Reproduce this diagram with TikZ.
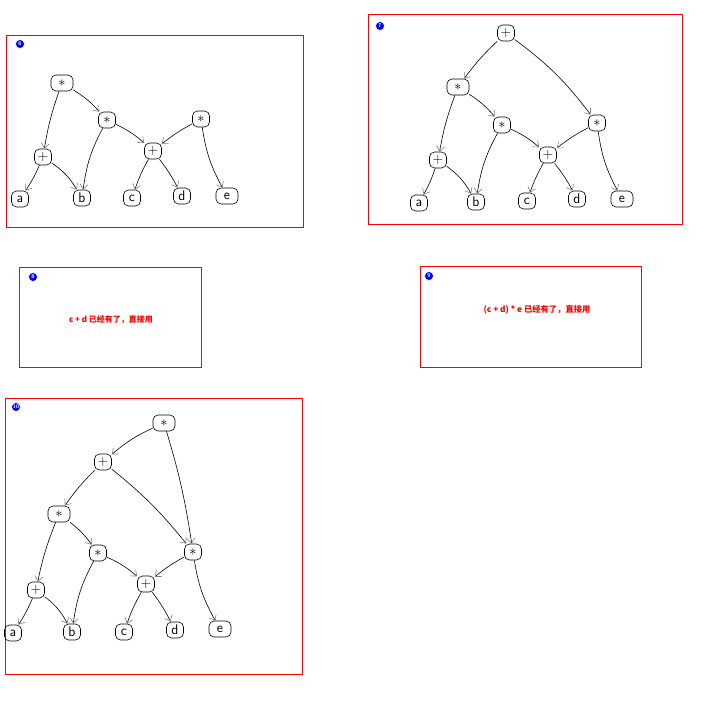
\documentclass[tikz,border=0pt]{standalone}
\usepackage{fontspec}
\newfontfamily\cjk{Noto Sans CJK SC}
\usetikzlibrary{arrows.meta}
\newcommand{\mul}{$\ast$}
\tikzset{
  panel/.style={draw=red, line width=1.2pt},
  tag/.style={circle, fill=blue, draw=white, line width=0.6pt, inner sep=0pt, minimum size=9pt, text=white, font=\sffamily\bfseries\fontsize{5.5}{5.5}\selectfont},
  nd/.style={draw, line width=0.6pt, rounded corners=5pt, minimum width=17pt, minimum height=16pt, inner sep=1pt, font=\sffamily\fontsize{14}{14}\selectfont},
  wnd/.style={nd, minimum width=22pt},
  ed/.style={line width=0.6pt, -{Straight Barb[length=5pt, width=8pt, color=gray]}},
  note/.style={text=red, font=\cjk\bfseries\fontsize{8}{9}\selectfont},
}
\begin{document}
\begin{tikzpicture}[x=1pt,y=-1pt]
\useasboundingbox (0,0) rectangle (713,707);
% ---------- panel 6 ----------
\node[panel, minimum width=297pt, minimum height=192pt, anchor=north west] (p6) at (6,35) {};
\node[tag] (t6) at (20,44) {6};
\node[wnd] (s6a) at (62,83) {\mul};
\node[nd] (s6b) at (107,120) {\mul};
\node[nd] (s6c) at (201,119) {\mul};
\node[nd] (s6d) at (43,157) {+};
\node[nd] (s6e) at (153,151) {+};
\node[nd] (s6va) at (20,199) {a};
\node[nd] (s6vb) at (82,198) {b};
\node[nd] (s6vc) at (132,198) {c};
\node[nd] (s6vd) at (182,196) {d};
\node[wnd] (s6ve) at (227,196) {e};
\draw[ed] (s6a) to[bend right=5] (s6d);
\draw[ed] (s6a) to[bend left=8] (s6b);
\draw[ed] (s6b) to[bend right=10] (s6vb);
\draw[ed] (s6b) to[bend left=8] (s6e);
\draw[ed] (s6d) to[bend left=5] (s6va);
\draw[ed] (s6d) to[bend left=12] (s6vb);
\draw[ed] (s6e) to[bend right=5] (s6vc);
\draw[ed] (s6e) to[bend left=5] (s6vd);
\draw[ed] (s6c) to[bend right=5] (s6e);
\draw[ed] (s6c) to[bend right=10] (s6ve);
% ---------- panel 7 ----------
\node[panel, minimum width=314pt, minimum height=210pt, anchor=north west] (p7) at (368,14) {};
\node[tag] (t7) at (380,26) {7};
\node[nd] (s7a) at (506,33) {+};
\node[wnd] (s7b) at (458,87) {\mul};
\node[nd] (s7c) at (502,125) {\mul};
\node[nd] (s7d) at (597,123) {\mul};
\node[nd] (s7e) at (438,160) {+};
\node[nd] (s7f) at (548,155) {+};
\node[nd] (s7va) at (419,203) {a};
\node[nd] (s7vb) at (476,202) {b};
\node[nd] (s7vc) at (527,201) {c};
\node[nd] (s7vd) at (577,199) {d};
\node[wnd] (s7ve) at (622,199) {e};
\draw[ed] (s7a) to[bend right=5] (s7b);
\draw[ed] (s7a) to[bend left=8] (s7d);
\draw[ed] (s7b) to[bend right=5] (s7e);
\draw[ed] (s7b) to[bend left=8] (s7c);
\draw[ed] (s7c) to[bend right=10] (s7vb);
\draw[ed] (s7c) to[bend left=8] (s7f);
\draw[ed] (s7e) to[bend left=5] (s7va);
\draw[ed] (s7e) to[bend left=12] (s7vb);
\draw[ed] (s7f) to[bend right=5] (s7vc);
\draw[ed] (s7f) to[bend left=5] (s7vd);
\draw[ed] (s7d) to[bend right=5] (s7f);
\draw[ed] (s7d) to[bend right=10] (s7ve);
% ---------- panel 8 ----------
\node[panel, minimum width=182pt, minimum height=100pt, anchor=north west] (p8) at (19,267) {};
\node[tag] (t8) at (33,277) {8};
\node[note] (n8) at (111,320) {c + d 已经有了，直接用};
% ---------- panel 9 ----------
\node[panel, minimum width=221pt, minimum height=101pt, anchor=north west] (p9) at (420,266) {};
\node[tag] (t9) at (429,276) {9};
\node[note, font=\cjk\bfseries\fontsize{8.3}{9}\selectfont] (n9) at (537,310) {(c + d) * e 已经有了，直接用};
% ---------- panel 10 ----------
\node[panel, minimum width=297pt, minimum height=276pt, anchor=north west] (p10) at (5,398) {};
\node[tag] (t10) at (16,407) {10};
\node[wnd] (s10a) at (164,423) {\mul};
\node[nd] (s10b) at (103,462) {+};
\node[wnd] (s10c) at (59,514) {\mul};
\node[nd] (s10d) at (98,553) {\mul};
\node[nd] (s10e) at (193,552) {\mul};
\node[nd] (s10f) at (36,590) {+};
\node[nd] (s10g) at (146,584) {+};
\node[nd] (s10va) at (13,633) {a};
\node[nd] (s10vb) at (72,632) {b};
\node[nd] (s10vc) at (124,632) {c};
\node[nd] (s10vd) at (175,630) {d};
\node[wnd] (s10ve) at (220,629) {e};
\draw[ed] (s10a) to[bend right=8] (s10b);
\draw[ed] (s10a) to[bend left=4] (s10e);
\draw[ed] (s10b) to[bend right=5] (s10c);
\draw[ed] (s10b) to[bend left=6] (s10e);
\draw[ed] (s10c) to[bend right=5] (s10f);
\draw[ed] (s10c) to[bend left=8] (s10d);
\draw[ed] (s10d) to[bend right=10] (s10vb);
\draw[ed] (s10d) to[bend left=8] (s10g);
\draw[ed] (s10f) to[bend left=5] (s10va);
\draw[ed] (s10f) to[bend left=12] (s10vb);
\draw[ed] (s10g) to[bend right=5] (s10vc);
\draw[ed] (s10g) to[bend left=5] (s10vd);
\draw[ed] (s10e) to[bend right=5] (s10g);
\draw[ed] (s10e) to[bend right=10] (s10ve);
\end{tikzpicture}
\end{document}
